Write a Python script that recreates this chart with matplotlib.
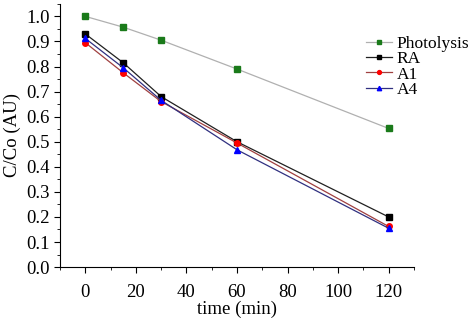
import matplotlib
matplotlib.use('Agg')
import matplotlib.pyplot as plt
from matplotlib.ticker import MultipleLocator

plt.rcParams['font.family'] = ['Liberation Serif', 'DejaVu Serif']

t = [0, 15, 30, 60, 120]
photolysis = [1.0, 0.957, 0.905, 0.79, 0.553]
ra = [0.93, 0.815, 0.68, 0.50, 0.20]
a1 = [0.895, 0.775, 0.66, 0.495, 0.162]
a4 = [0.912, 0.795, 0.665, 0.468, 0.155]

fig = plt.figure(figsize=(4.73, 3.21), dpi=100)
ax = fig.add_axes([0.127, 0.168, 0.748, 0.82])

ax.plot(t, photolysis, color='#b0b0b0', lw=0.9, marker='s', ms=4,
        mfc='#1a7a1a', mec='#1a7a1a', label='Photolysis')
ax.plot(t, ra, color='#202020', lw=0.9, marker='s', ms=4,
        mfc='black', mec='black', label='RA')
ax.plot(t, a1, color='#a04040', lw=0.9, marker='o', ms=4,
        mfc='red', mec='red', label='A1')
ax.plot(t, a4, color='#303080', lw=0.9, marker='^', ms=4.5,
        mfc='blue', mec='blue', label='A4')

ax.set_xlim(-10, 130)
ax.set_ylim(0, 1.05)
ax.xaxis.set_minor_locator(MultipleLocator(10))
ax.yaxis.set_minor_locator(MultipleLocator(0.05))
ax.set_xticks(range(0, 121, 20))
ax.set_yticks([i / 10 for i in range(11)])
ax.set_yticklabels(['%.1f' % (i / 10) for i in range(11)])

for s in ['top', 'right']:
    ax.spines[s].set_visible(False)
ax.tick_params(which='both', direction='out', labelsize=13.5)
ax.tick_params(which='major', length=4)
ax.tick_params(which='minor', length=2.5)
ax.tick_params(axis='x', which='major', pad=8)

ax.set_xlabel('time (min)', fontsize=13.5, labelpad=0)
ax.set_ylabel('C/Co (AU)', fontsize=13.5, labelpad=4)

ax.legend(loc='upper left', bbox_to_anchor=(0.845, 0.905), frameon=False,
          fontsize=12.5, handlelength=1.5, handletextpad=0.25,
          labelspacing=-0.05, borderaxespad=0, markerscale=0.7)

fig.savefig('out.png', dpi=100)
